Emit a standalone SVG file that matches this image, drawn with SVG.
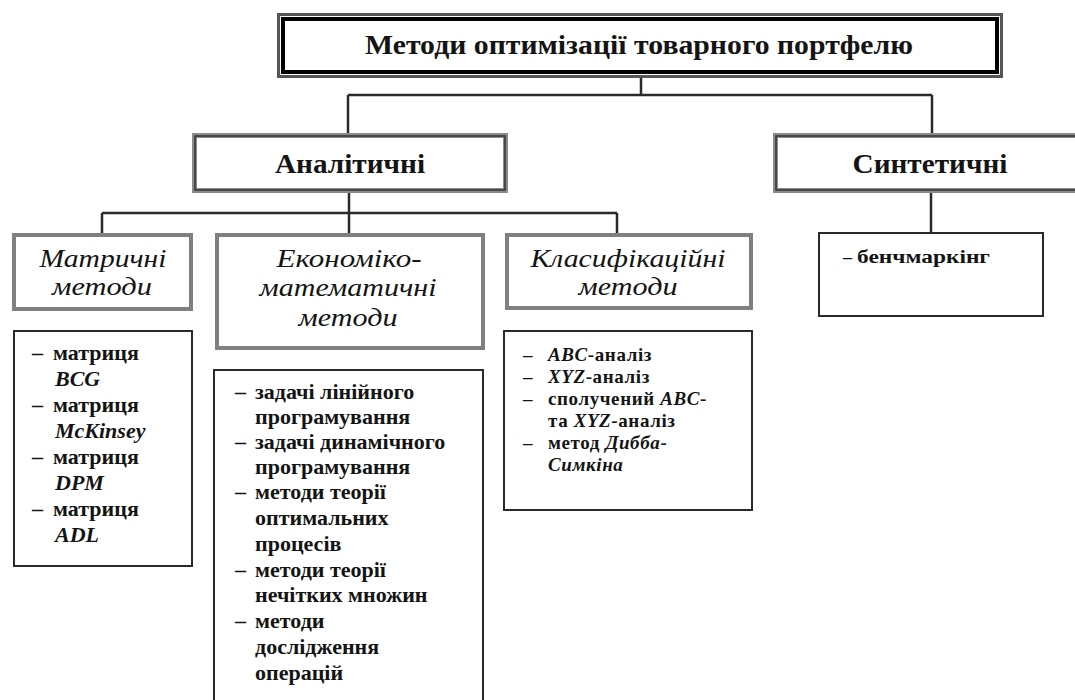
<svg xmlns="http://www.w3.org/2000/svg" width="1075" height="700" viewBox="0 0 1075 700">
<style>
.bg{fill:#fff}
.h0{font-family:"Liberation Serif",serif;font-weight:bold;font-size:27px;fill:#141414;text-anchor:middle}
.h1{font-family:"Liberation Serif",serif;font-weight:bold;font-size:27px;fill:#141414;text-anchor:middle}
.h2{font-family:"Liberation Serif",serif;font-style:italic;font-size:26px;fill:#141414;text-anchor:middle}
.li{font-family:"Liberation Serif",serif;font-weight:bold;font-size:22px;fill:#141414}
.lc{font-family:"Liberation Serif",serif;font-weight:bold;font-size:19px;letter-spacing:0.6px;fill:#141414}
.lb{font-family:"Liberation Serif",serif;font-weight:bold;font-size:18px;fill:#141414}
.it{font-style:italic}
.outer0{fill:#fff;stroke:#555;stroke-width:3}
.inner0{fill:none;stroke:#000;stroke-width:4}
.b1{fill:#fff;stroke:#8a8a8a;stroke-width:5}
.b1i{fill:none;stroke:#333;stroke-width:1.5}
.b2{fill:#fff;stroke:#808080;stroke-width:4}
.b3{fill:#fff;stroke:#2a2a2a;stroke-width:2}
.con{fill:none;stroke:#2a2a2a;stroke-width:2.5}
</style>
<rect class="bg" x="0" y="0" width="1075" height="700"/>

<g id="connectors">
<path class="con" d="M641 78 V95 M348 95 H932 M348 95 V133 M932 95 V133"/>
<path class="con" d="M349 193 V233 M102 213 H617 M102 213 V233 M617 213 V233"/>
<path class="con" d="M931 193 V232"/>
</g>

<g id="root">
<rect class="outer0" x="278.5" y="14.5" width="723" height="62"/>
<rect class="inner0" x="283" y="19" width="714" height="53"/>
<text class="h0" x="639" y="54" textLength="548" lengthAdjust="spacingAndGlyphs">Методи оптимізації товарного портфелю</text>
</g>

<g id="analytic">
<rect class="b1" x="194.5" y="135.5" width="311" height="55"/>
<rect class="b1i" x="195" y="136" width="310" height="54"/>
<text class="h1" x="350" y="173" textLength="150" lengthAdjust="spacingAndGlyphs">Аналітичні</text>
</g>

<g id="synthetic">
<rect class="b1" x="775.5" y="135.5" width="320" height="55"/>
<rect class="b1i" x="776" y="136" width="320" height="54"/>
<text class="h1" x="930" y="173" textLength="155" lengthAdjust="spacingAndGlyphs">Синтетичні</text>
</g>

<g id="matrix">
<rect class="b2" x="14" y="235" width="177" height="74"/>
<text class="h2" x="103" y="267" textLength="127" lengthAdjust="spacingAndGlyphs">Матричні</text>
<text class="h2" x="102" y="295" textLength="100" lengthAdjust="spacingAndGlyphs">методи</text>
</g>

<g id="econ">
<rect class="b2" x="217" y="235" width="266" height="113"/>
<text class="h2" x="349" y="267" textLength="145" lengthAdjust="spacingAndGlyphs">Економіко-</text>
<text class="h2" x="348" y="296" textLength="177" lengthAdjust="spacingAndGlyphs">математичні</text>
<text class="h2" x="348" y="326" textLength="99" lengthAdjust="spacingAndGlyphs">методи</text>
</g>

<g id="classif">
<rect class="b2" x="507" y="235" width="244" height="73"/>
<text class="h2" x="628" y="267" textLength="195" lengthAdjust="spacingAndGlyphs">Класифікаційні</text>
<text class="h2" x="628" y="295" textLength="99" lengthAdjust="spacingAndGlyphs">методи</text>
</g>

<g id="matrix-list">
<rect class="b3" x="14" y="331" width="178" height="235"/>
<text class="li" x="32" y="360">–<tspan x="53">матриця</tspan></text>
<text class="li it" x="55" y="386">BCG</text>
<text class="li" x="32" y="412">–<tspan x="53">матриця</tspan></text>
<text class="li it" x="55" y="438">McKinsey</text>
<text class="li" x="32" y="464">–<tspan x="53">матриця</tspan></text>
<text class="li it" x="55" y="490">DPM</text>
<text class="li" x="32" y="516">–<tspan x="53">матриця</tspan></text>
<text class="li it" x="55" y="542">ADL</text>
</g>

<g id="econ-list">
<rect class="b3" x="214" y="370" width="269" height="340"/>
<text class="li" x="235" y="399">–<tspan x="255">задачі лінійного</tspan></text>
<text class="li" x="255" y="424">програмування</text>
<text class="li" x="235" y="449">–<tspan x="255">задачі динамічного</tspan></text>
<text class="li" x="255" y="474">програмування</text>
<text class="li" x="235" y="499">–<tspan x="255">методи теорії</tspan></text>
<text class="li" x="255" y="525">оптимальних</text>
<text class="li" x="255" y="551">процесів</text>
<text class="li" x="235" y="577">–<tspan x="255">методи теорії</tspan></text>
<text class="li" x="255" y="602">нечітких множин</text>
<text class="li" x="235" y="628">–<tspan x="255">методи</tspan></text>
<text class="li" x="255" y="654">дослідження</text>
<text class="li" x="255" y="680">операцій</text>
</g>

<g id="classif-list">
<rect class="b3" x="504" y="331" width="248" height="179"/>
<text class="lc" x="523" y="361">–<tspan x="548" class="it">ABC</tspan>-аналіз</text>
<text class="lc" x="523" y="383">–<tspan x="548" class="it">XYZ</tspan>-аналіз</text>
<text class="lc" x="523" y="405">–<tspan x="548">сполучений </tspan><tspan class="it">ABC</tspan>-</text>
<text class="lc" x="548" y="427">та <tspan class="it">XYZ</tspan>-аналіз</text>
<text class="lc" x="523" y="449">–<tspan x="548">метод </tspan><tspan class="it">Дибба</tspan>-</text>
<text class="lc it" x="548" y="471">Симкіна</text>
</g>

<g id="bench">
<rect class="b3" x="819" y="233" width="224" height="83"/>
<text class="lb" x="843" y="263">–<tspan x="857" textLength="133" lengthAdjust="spacingAndGlyphs">бенчмаркінг</tspan></text>
</g>
</svg>
